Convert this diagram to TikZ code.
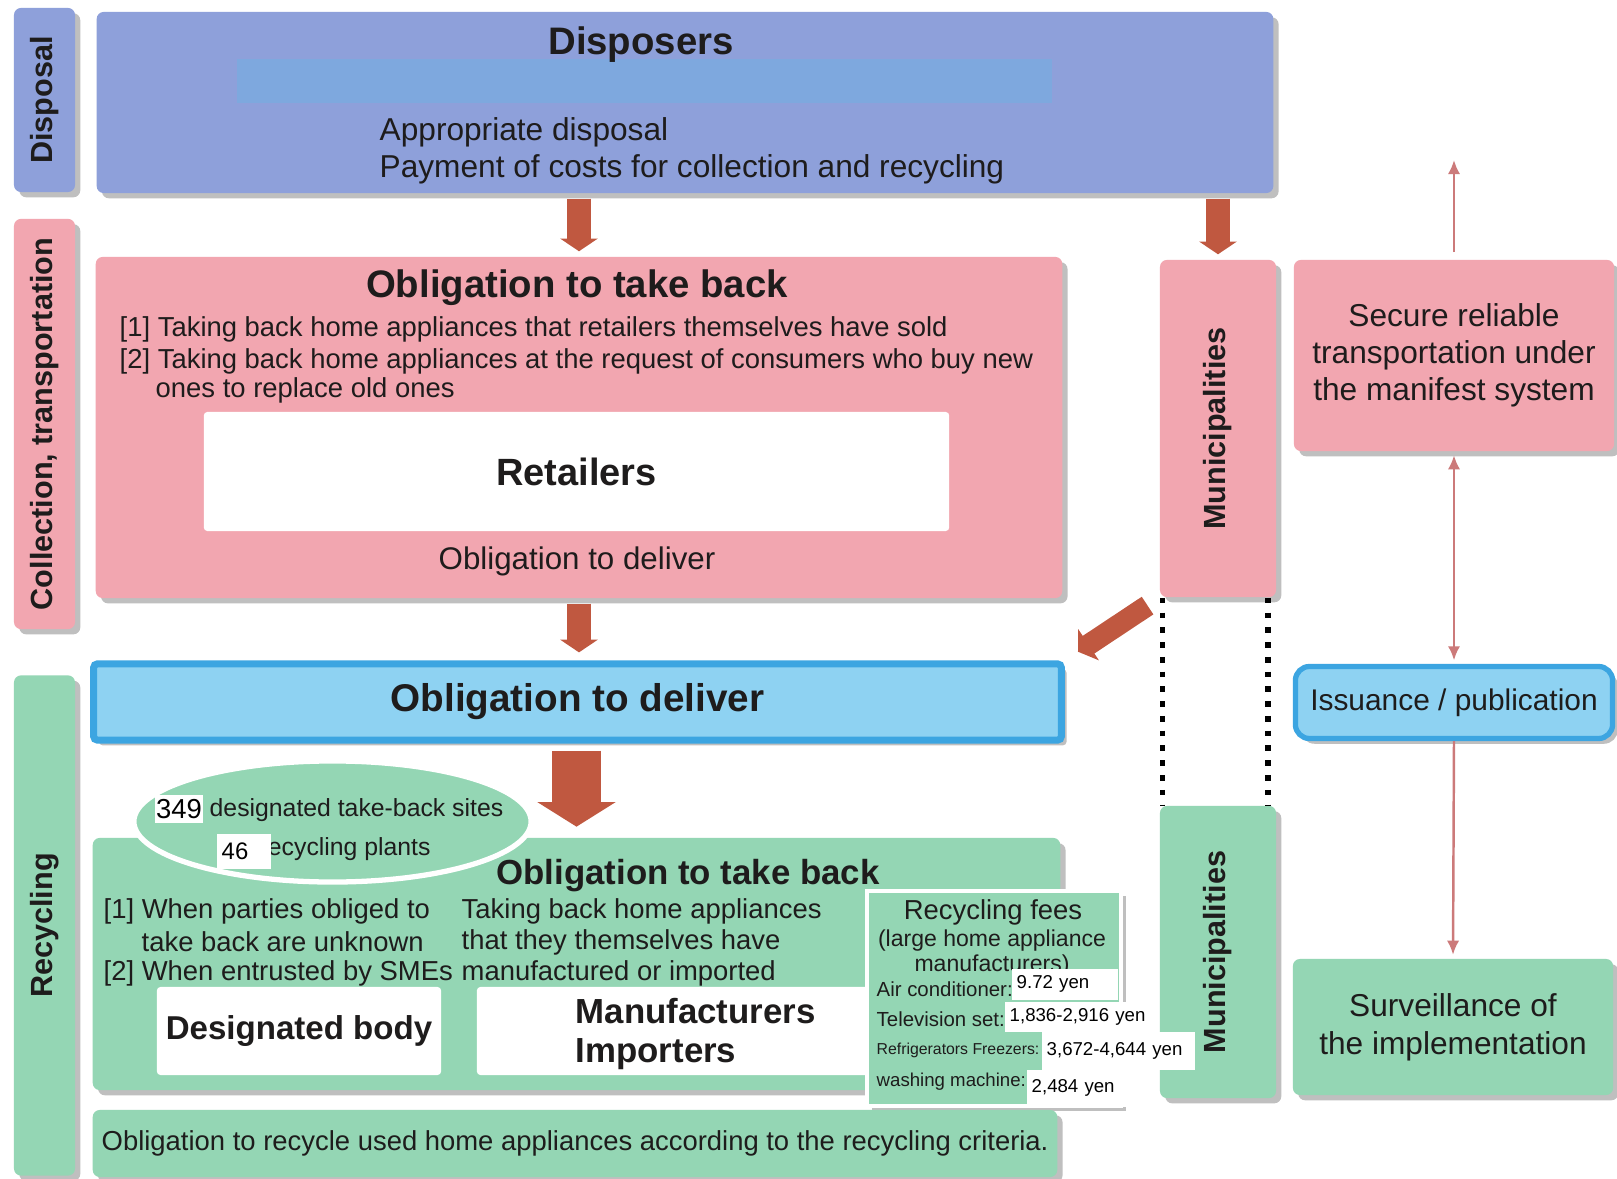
\documentclass[tikz,border=0pt]{standalone}
\usepackage{fontspec}
\setmainfont{Liberation Sans}
\usetikzlibrary{positioning,shadows,shapes.geometric,arrows.meta}
\definecolor{mydispblue}{RGB}{142,160,218}
\definecolor{mybandblue}{RGB}{126,168,222}
\definecolor{mypink}{RGB}{242,166,176}
\definecolor{mygreen}{RGB}{148,214,180}
\definecolor{mysky}{RGB}{142,210,242}
\definecolor{myskyedge}{RGB}{60,165,225}
\definecolor{mybrown}{RGB}{192,88,64}
\definecolor{mythin}{RGB}{204,122,122}
\definecolor{mytext}{RGB}{30,28,28}
\newcommand{\fsz}[1]{\fontsize{#1}{#1}\selectfont}
\tikzset{>=latex}

\begin{document}
\begin{tikzpicture}[x=0.01cm, y=-0.01cm, text=mytext,
    box/.style = {rectangle, rounded corners=2pt, inner sep=0pt, drop shadow={shadow xshift=1.5pt, shadow yshift=-1.5pt, opacity=0.5}},
    sidebar/.style = {box, minimum width=0.61cm},
    sidetext/.style = {rotate=90, font=\fsz{8.7}\bfseries},
    whitebox/.style = {rectangle, fill=white, inner sep=0pt, rounded corners=1pt},
    valbox/.style = {rectangle, fill=white, anchor=north west, inner xsep=0.05cm, inner ysep=0pt, align=left, text=black, font=\fsz{5.3}},
    txt/.style = {anchor=west, inner sep=0pt},
    fat/.style = {mybrown, line width=7pt, -{Triangle[width=10.5pt,length=3.6pt]}},
    bigfat/.style = {mybrown, line width=14pt, -{Triangle[width=22pt,length=7pt]}},
    pointer/.style = {mythin, line width=0.7pt, >={Latex[length=4pt,width=3.5pt]}},
    dots/.style = {line width=1.6pt, dash pattern=on 1.6pt off 2.6pt}]

\useasboundingbox[fill=white] (0,0) rectangle (1617,1179);

% stages on the left
\node[sidebar, fill=mydispblue, minimum height=1.84cm] (disp) at (44.5,100) {};
\node[sidebar, fill=mypink, minimum height=4.1cm] (coll) at (44.5,424) {};
\node[sidebar, fill=mygreen, minimum height=5.0cm] (recy) at (44.5,925.5) {};
\node[sidetext] (dispT) at (disp) {Disposal};
\node[sidetext] (collT) at (coll) {Collection, transportation};
\node[sidetext] (recyT) at (recy) {Recycling};

% disposers
\node[box, fill=mydispblue, minimum width=11.76cm, minimum height=1.81cm] (disposers) at (685,102.5) {};
\node[rectangle, fill=mybandblue, minimum width=8.15cm, minimum height=0.44cm] (band) at (644.5,81) {};
\node[font=\fsz{10.9}\bfseries] (dispTitle) at (641,45) {Disposers};
\node[txt, font=\fsz{9}] (dispA) at (379,132) {Appropriate disposal};
\node[txt, font=\fsz{9}] (dispB) at (379,169) {Payment of costs for collection and recycling};

% retailers
\node[box, fill=mypink, minimum width=9.66cm, minimum height=3.41cm] (takeback) at (579,427.5) {};
\node[font=\fsz{10.9}\bfseries] (tbTitle) at (577,288) {Obligation to take back};
\node[txt, font=\fsz{7.8}] (tbA) at (119,329) {[1] Taking back home appliances that retailers themselves have sold};
\node[txt, font=\fsz{7.8}] (tbB) at (119,361) {[2] Taking back home appliances at the request of consumers who buy new};
\node[txt, font=\fsz{7.8}] (tbC) at (155,390) {ones to replace old ones};
\node[whitebox, minimum width=7.45cm, minimum height=1.19cm, font=\fsz{10.8}\bfseries] (retailers) at (576.5,471.5) {Retailers};
\node[font=\fsz{8.9}] (tbDeliver) at (577,561) {Obligation to deliver};

% right column
\node[box, fill=mypink, minimum width=1.16cm, minimum height=3.37cm] (muniP) at (1218,428.5) {};
\node[sidetext] (muniPT) at (muniP) {Municipalities};
\node[box, fill=mypink, minimum width=3.2cm, minimum height=1.91cm, align=center, font=\fontsize{9}{10.6}\selectfont] (secure) at (1454,355.5) {Secure reliable\\transportation under\\the manifest system};
\node[box, fill=mysky, draw=myskyedge, line width=1.5pt, rounded corners=4pt, minimum width=3.17cm, minimum height=0.72cm, font=\fsz{8.5}] (issuance) at (1454,702.5) {Issuance / publication};
\node[box, fill=mygreen, minimum width=1.16cm, minimum height=2.92cm] (muniG) at (1218,952) {};
\node[sidetext] (muniGT) at (muniG) {Municipalities};
\node[box, fill=mygreen, minimum width=3.2cm, minimum height=1.36cm, align=center, font=\fontsize{9}{10.8}\selectfont] (surveil) at (1453,1027) {Surveillance of\\the implementation};

% delivery
\node[box, fill=mysky, draw=myskyedge, line width=2pt, rounded corners=1pt, minimum width=9.67cm, minimum height=0.76cm, font=\fsz{11}\bfseries] (deliver) at (577.5,702) {Obligation to deliver};

% recycling
\node[box, fill=mygreen, minimum width=9.67cm, minimum height=2.52cm] (recybox) at (576.5,964) {};
\node[ellipse, fill=mygreen, draw=white, line width=1.5pt, minimum width=3.97cm, minimum height=1.21cm] (sites) at (332.5,821.5) {};
\node[txt, font=\fsz{7.05}] (sitesA) at (209,810) {designated take-back sites};
\node[txt, font=\fsz{7.05}] (sitesB) at (259,849) {recycling plants};
\node[whitebox, rounded corners=0pt, minimum width=0.48cm, minimum height=0.28cm, text=black, font=\fsz{7.8}] (nSites) at (179,809) {349};
\node[valbox, text width=0.44cm, minimum height=0.35cm, font=\fsz{6.8}] (nPlants) at (216,833) {46};
\node[font=\fsz{9.9}\bfseries] (rcTitle) at (688,876) {Obligation to take back};
\node[txt, font=\fsz{7.8}] (rcA) at (103,911) {[1] When parties obliged to};
\node[txt, font=\fsz{7.8}] (rcB) at (141,942) {take back are unknown};
\node[txt, font=\fsz{7.8}] (rcC) at (103,973) {[2] When entrusted by SMEs};
\node[txt, font=\fsz{7.8}] (rcD) at (461,911) {Taking back home appliances};
\node[txt, font=\fsz{7.8}] (rcE) at (461,942) {that they themselves have};
\node[txt, font=\fsz{7.8}] (rcF) at (461,973) {manufactured or imported};
\node[whitebox, minimum width=2.84cm, minimum height=0.88cm, font=\fsz{9.4}\bfseries] (desig) at (299,1031) {Designated body};
\node[whitebox, minimum width=4.03cm, minimum height=0.88cm] (manuf) at (678.5,1031) {};
\node[txt, font=\fsz{9.9}\bfseries] (manufA) at (575,1011) {Manufacturers};
\node[txt, font=\fsz{9.9}\bfseries] (manufB) at (575,1054) {Importers};

% recycling fees
\node[box, fill=mygreen, draw=white, line width=1.2pt, rounded corners=0pt, minimum width=2.54cm, minimum height=2.15cm] (fees) at (994,998.5) {};
\node[font=\fsz{7.8}] (feesA) at (993,912) {Recycling fees};
\node[font=\fsz{6.55}] (feesB) at (992,941) {(large home appliance};
\node[font=\fsz{6.55}] (feesC) at (992,966) {manufacturers)};
\node[txt, font=\fsz{5.8}] (feeAir) at (876,989) {Air conditioner:};
\node[txt, font=\fsz{5.8}] (feeTv) at (876,1019) {Television set:};
\node[txt, font=\fsz{4.5}] (feeFr) at (876,1050) {Refrigerators Freezers:};
\node[txt, font=\fsz{5.3}] (feeWm) at (876,1082) {washing machine:};
\node[valbox, text width=0.96cm, minimum height=0.31cm] (valAir) at (1011,968) {9.72 yen};
\node[valbox, text width=1.40cm, minimum height=0.30cm] (valTv) at (1004,1001) {1,836-2,916 yen};
\node[valbox, text width=1.43cm, minimum height=0.38cm] (valFr) at (1041,1031) {3,672-4,644 yen};
\node[valbox, text width=0.96cm, minimum height=0.37cm] (valWm) at (1026,1069) {2,484 yen};

\node[box, fill=mygreen, minimum width=9.64cm, minimum height=0.67cm] (criteria) at (575,1143.5) {};
\node[txt, font=\fsz{7.8}] (criteriaT) at (101,1143) {Obligation to recycle used home appliances according to the recycling criteria.};

% flows
\draw[fat, shorten <=1.4pt, shorten >=1.4pt] (disposers.south -| takeback) -- (takeback.north);
\draw[fat, shorten <=1.4pt, shorten >=1.4pt] (disposers.south -| muniP) -- (muniP.north);
\draw[fat, shorten <=1.4pt, shorten >=2.3pt] (takeback.south) -- (deliver.north -| takeback);
\draw[fat, line width=6pt, shorten <=4pt, shorten >=4.5pt] (muniP.south west) -- (deliver.north east);
\draw[bigfat, shorten <=2pt, shorten >=3pt] (deliver.south -| recybox) -- (recybox.north);

\coordinate (secureUp) at (1454,160);
\draw[pointer, ->, shorten <=2pt] (secure.north) -- (secureUp);
\draw[pointer, <->, shorten <=1pt, shorten >=1pt] (secure.south) -- (issuance.north);
\draw[pointer, ->, shorten >=1pt] (issuance.south) -- (surveil.north);

\draw[dots] ([xshift=0.9pt]muniP.south west) -- ([xshift=0.9pt]muniG.north west);
\draw[dots] ([xshift=-2.5pt]muniP.south east) -- ([xshift=-2.5pt]muniG.north east);
\end{tikzpicture}
\end{document}
